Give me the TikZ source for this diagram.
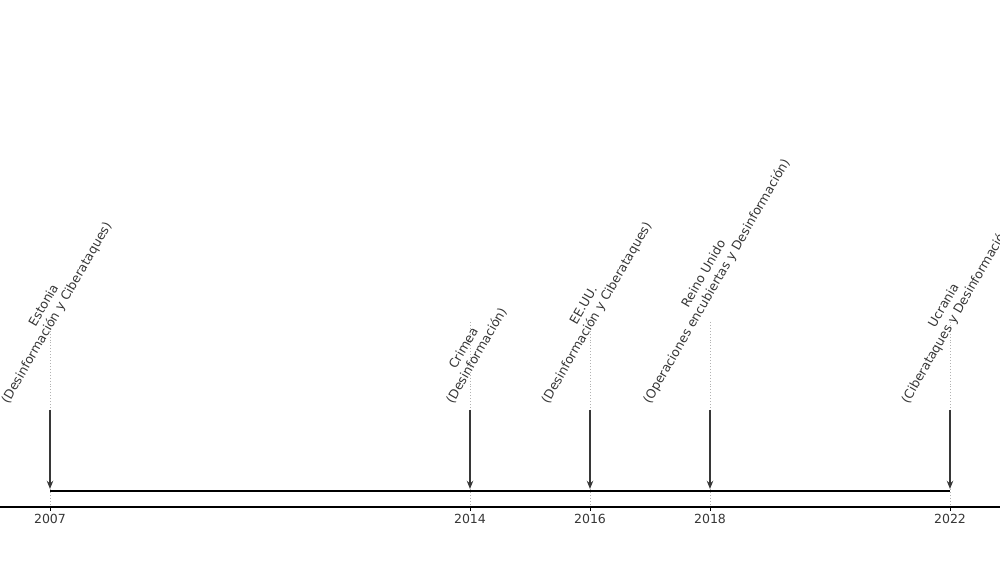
\documentclass[tikz,border=0pt]{standalone}
\usepackage{fontspec}
\setmainfont{DejaVu Sans}
\usepackage{graphicx}
\usetikzlibrary{arrows.meta, positioning}
\definecolor{labelgray}{RGB}{55,55,55}

\begin{document}
\begin{tikzpicture}[x=0.03cm, y=0.03cm,
  event/.style={anchor=south, inner sep=0pt, text=labelgray, font=\fontsize{10.7}{12.8}\selectfont},
  yearlabel/.style={anchor=north, inner sep=0pt, text=labelgray, font=\fontsize{10.7}{12.8}\selectfont},
  yeargrid/.style={draw=black!30, dotted, line width=0.5pt},
  pointer/.style={-{Stealth[length=7pt, width=5.5pt]}, draw=labelgray, line width=1.2pt}]

  \useasboundingbox (0,0) rectangle (1000,563);
  \clip (0,0) rectangle (1000,563);

  % grid, ticks and years
  \foreach \x/\yr in {50/2007, 470/2014, 590/2016, 710/2018, 950/2022} {
    \draw[yeargrid] (\x,241) -- (\x,56);
    \draw[line width=0.6pt] (\x,56) -- (\x,52);
    \node[yearlabel] (y\yr) at (\x,49) {\yr};
    \coordinate (t\yr) at (\x,74);
  }

  % axis
  \draw[line width=1.2pt] (0,56) -- (1000,56);

  % timeline
  \coordinate (l2007) at (50,72);
  \coordinate (l2022) at (950,72);
  \draw[line width=1.5pt] (l2007) -- (l2022);

  % events
  \node[event] (e2007) at (51,156) {\rotatebox{60}{\begin{tabular}{@{}c@{}}Estonia\\(Desinformación y Ciberataques)\end{tabular}}};
  \node[event] (e2014) at (471,156) {\rotatebox{60}{\begin{tabular}{@{}c@{}}Crimea\\(Desinformación)\end{tabular}}};
  \node[event] (e2016) at (591,156) {\rotatebox{60}{\begin{tabular}{@{}c@{}}EE.UU.\\(Desinformación y Ciberataques)\end{tabular}}};
  \node[event] (e2018) at (711,156) {\rotatebox{60}{\begin{tabular}{@{}c@{}}Reino Unido\\(Operaciones encubiertas y Desinformación)\end{tabular}}};
  \node[event] (e2022) at (951,156) {\rotatebox{60}{\begin{tabular}{@{}c@{}}Ucrania\\(Ciberataques y Desinformación)\end{tabular}}};

  \foreach \yr in {2007, 2014, 2016, 2018, 2022}
    \draw[pointer] ([xshift=-0.03cm, yshift=-0.09cm]e\yr.south) -- (t\yr);
\end{tikzpicture}
\end{document}
